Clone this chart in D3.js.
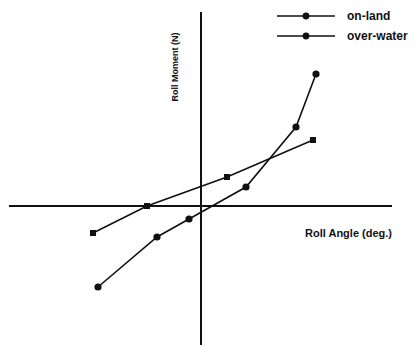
<!DOCTYPE html>
<html>
<head>
<meta charset="utf-8">
<script src="https://cdn.jsdelivr.net/npm/d3@7"></script>
<style>
  body { margin: 0; background: #fff; }
  text { font-family: "Liberation Sans", Arial, sans-serif; font-weight: bold; fill: #111; }
</style>
</head>
<body>
<div id="chart"></div>
<script>
// roll angle (deg.) vs roll moment (arbitrary units)
const landAngle = [-10.3, -4.4, -1.2, 4.5, 9.5, 11.5];
const landMoment = [-8.1, -3.1, -1.3, 1.9, 7.9, 13.2];
const waterAngle = [-10.8, -5.4, 2.6, 11.2];
const waterMoment = [-2.7, 0.0, 2.9, 6.6];
const seriesNames = ["on-land", "over-water"];

const width = 417, height = 345;

const svg = d3.select("#chart")
  .append("svg")
  .attr("width", width)
  .attr("height", height);

const x = d3.scaleLinear().domain([-20, 20]).range([1, 401]);
const y = d3.scaleLinear().domain([-14, 20]).range([346, 6]);

// cross axes through the origin
svg.append("line")
  .attr("x1", x(-19.2)).attr("x2", x(19.1))
  .attr("y1", y(0)).attr("y2", y(0))
  .attr("stroke", "#111").attr("stroke-width", 2);
svg.append("line")
  .attr("x1", x(0)).attr("x2", x(0))
  .attr("y1", y(19.4)).attr("y2", y(-14))
  .attr("stroke", "#111").attr("stroke-width", 2);

const line = d3.line().x((d) => x(d[0])).y((d) => y(d[1]));

const land = landAngle.map((a, i) => [a, landMoment[i]]);
const water = waterAngle.map((a, i) => [a, waterMoment[i]]);

svg.append("path").datum(land)
  .attr("d", line).attr("fill", "none")
  .attr("stroke", "#111").attr("stroke-width", 1.6);
svg.append("path").datum(water)
  .attr("d", line).attr("fill", "none")
  .attr("stroke", "#111").attr("stroke-width", 1.6);

svg.selectAll("circle.land")
  .data(land).enter().append("circle")
  .attr("class", "land")
  .attr("cx", (d) => x(d[0])).attr("cy", (d) => y(d[1]))
  .attr("r", 3.6).attr("fill", "#111");

svg.selectAll("rect.water")
  .data(water).enter().append("rect")
  .attr("class", "water")
  .attr("x", (d) => x(d[0]) - 3).attr("y", (d) => y(d[1]) - 3)
  .attr("width", 6).attr("height", 6).attr("fill", "#111");

// legend
const legend = svg.append("g").attr("transform", "translate(277,16)");
seriesNames.forEach((name, i) => {
  const g = legend.append("g").attr("transform", `translate(0,${i * 20})`);
  g.append("line").attr("x1", 0).attr("x2", 58).attr("y1", 0).attr("y2", 0)
    .attr("stroke", "#111").attr("stroke-width", 1.6);
  g.append("circle").attr("cx", 29).attr("cy", 0).attr("r", 3.4).attr("fill", "#111");
  g.append("text").attr("x", 70).attr("y", 4).attr("font-size", 12).text(name);
});

// axis titles
svg.append("text")
  .attr("x", 392).attr("y", 237)
  .attr("text-anchor", "end")
  .attr("font-size", 11)
  .text("Roll Angle (deg.)");

svg.append("text")
  .attr("transform", "translate(178,67) rotate(-90)")
  .attr("text-anchor", "middle")
  .attr("font-size", 9)
  .text("Roll Moment (N)");
</script>
</body>
</html>
